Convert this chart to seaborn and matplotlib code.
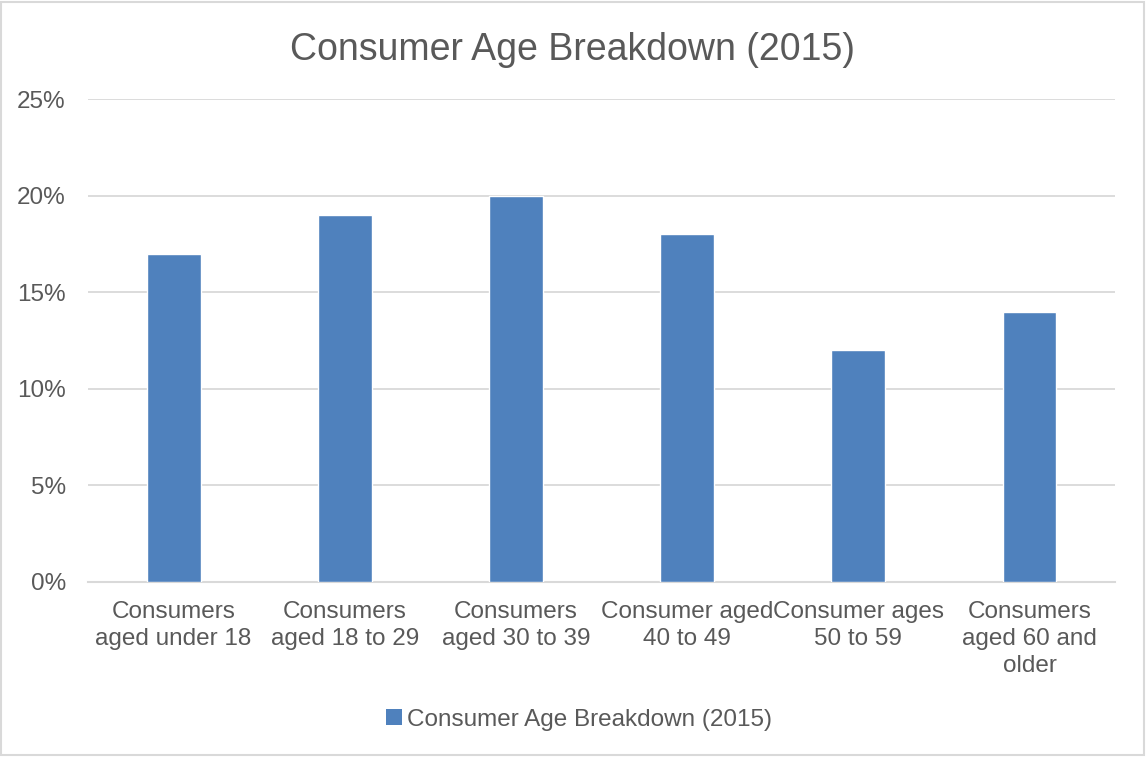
import matplotlib
matplotlib.use("Agg")
import matplotlib.pyplot as plt
from matplotlib.patches import Patch, Rectangle
from matplotlib.ticker import FuncFormatter, MultipleLocator
import pandas as pd
import seaborn as sns

categories = [
    "Consumers\naged under 18",
    "Consumers\naged 18 to 29",
    "Consumers\naged 30 to 39",
    "Consumer aged\n40 to 49",
    "Consumer ages\n50 to 59",
    "Consumers\naged 60 and\nolder",
]
shares = [0.17, 0.19, 0.20, 0.18, 0.12, 0.14]
series_name = "Consumer Age Breakdown (2015)"

sns.set_theme(style="white")
plt.rcParams["font.family"] = ["Liberation Sans", "DejaVu Sans"]

text_color = "#595959"
bar_color = "#4F81BD"
grid_color = "#D9D9D9"

df = pd.DataFrame({"category": categories, "share": shares})

fig = plt.figure(figsize=(11.46, 7.57), dpi=100)
ax = fig.add_axes([0.0768, 0.2312, 0.8962, 0.638])

sns.barplot(data=df, x="category", y="share", color=bar_color, saturation=1,
            width=0.315, ax=ax, zorder=3)

ax.set_ylim(0, 0.25)
ax.yaxis.set_major_locator(MultipleLocator(0.05))
ax.yaxis.set_major_formatter(FuncFormatter(lambda v, _: f"{v * 100:.0f}%"))
ax.grid(axis="y", color=grid_color, linewidth=1.3, zorder=0)
for side in ("top", "right", "left"):
    ax.spines[side].set_visible(False)
ax.spines["bottom"].set_color(grid_color)
ax.spines["bottom"].set_linewidth(1.5)
ax.set_xlabel("")
ax.set_ylabel("")
ax.tick_params(axis="both", length=0, labelsize=17.5, labelcolor=text_color)
ax.tick_params(axis="x", pad=14)
ax.tick_params(axis="y", pad=16)
for lbl in ax.get_xticklabels():
    lbl.set_linespacing(1.27)

fig.text(0.5, 0.934, series_name, ha="center", va="center",
         fontsize=27, color=text_color)

fig.legend(handles=[Patch(facecolor=bar_color, edgecolor="none", label=series_name)],
           loc="center", bbox_to_anchor=(0.505, 0.049), frameon=False,
           fontsize=17.5, labelcolor=text_color, handlelength=0.65,
           handleheight=0.65, handletextpad=0.2)

fig.patches.append(Rectangle((0.001, 0.002), 0.997, 0.996, transform=fig.transFigure,
                             fill=False, edgecolor=grid_color, linewidth=1.5))

fig.savefig("out.png", dpi=100)
